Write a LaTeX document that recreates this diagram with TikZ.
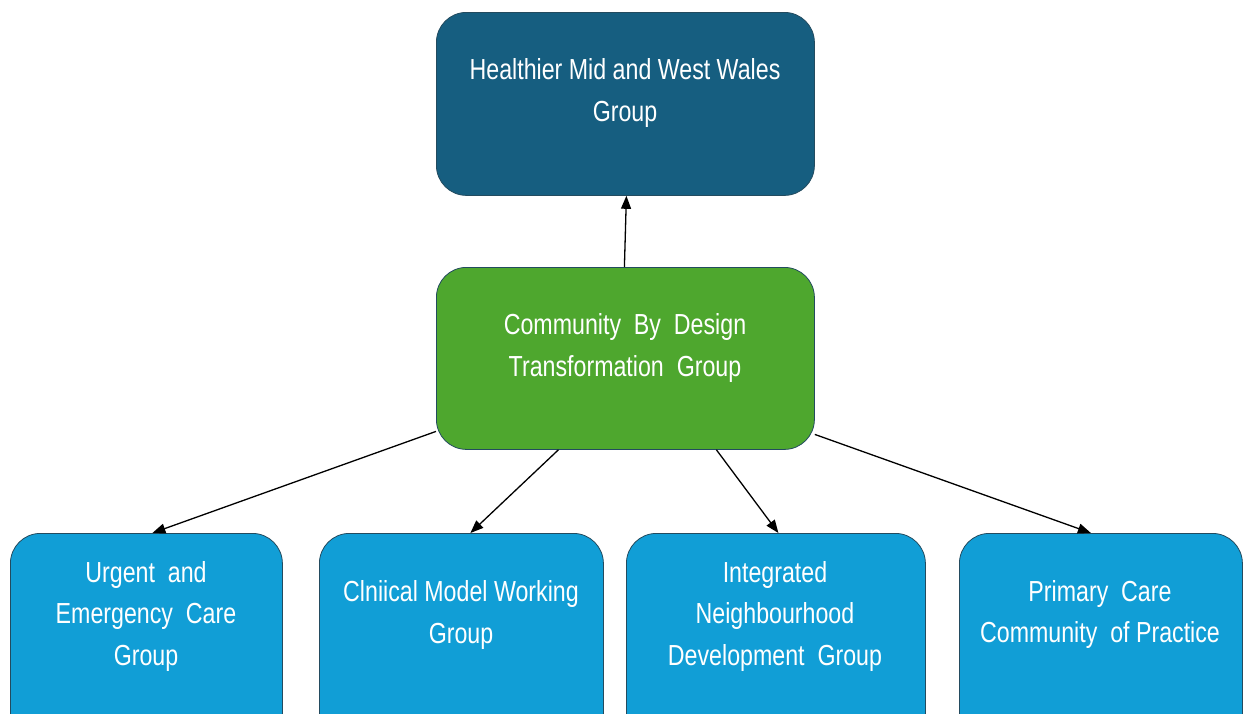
\documentclass[tikz,border=0pt]{standalone}
\usepackage{fontspec}
\setmainfont[FakeStretch=0.8]{Liberation Sans}
\usetikzlibrary{arrows.meta}
\definecolor{topblue}{RGB}{22,94,128}
\definecolor{cbdgreen}{RGB}{78,167,46}
\definecolor{subblue}{RGB}{17,158,214}
\definecolor{edgecol}{RGB}{35,75,95}
\begin{document}
\begin{tikzpicture}[x=1pt,y=-1pt,
  box/.style={draw=edgecol,line width=0.8pt,rounded corners=30pt,anchor=north west,inner sep=0pt},
  lbl/.style={text=white,align=center,font=\fontsize{29}{41.5}\selectfont,inner sep=0pt},
  arr/.style={-{Triangle[length=13pt,width=10pt]},line width=1.3pt,black}]
\useasboundingbox (0,0) rectangle (1244,713);
\clip (0,0) rectangle (1244,713);
\fill[white] (0,0) rectangle (1244,713);
% boxes
\node[box,fill=topblue,minimum width=378pt,minimum height=183pt] (top) at (436,12) {};
\node[box,fill=cbdgreen,minimum width=378pt,minimum height=182pt] (cbd) at (436,267) {};
\node[box,fill=subblue,minimum width=272pt,minimum height=210pt] (u1) at (10,533) {};
\node[box,fill=subblue,minimum width=284pt,minimum height=210pt] (u2) at (319,533) {};
\node[box,fill=subblue,minimum width=299pt,minimum height=210pt] (u3) at (626,533) {};
\node[box,fill=subblue,minimum width=283pt,minimum height=210pt] (u4) at (959,533) {};
% labels
\node[lbl] (topt) at (625,93) {Healthier Mid and West Wales\\Group};
\node[lbl] (cbdt) at (625,348) {Community\ \ By\ \ Design\\Transformation\ \ Group};
\node[lbl] (u1t) at (146,616) {Urgent\ \ and\\Emergency\ \ Care\\Group};
\node[lbl] (u2t) at (461,615) {Clniical Model Working\\Group};
\node[lbl] (u3t) at (775,616) {Integrated\\Neighbourhood\\Development\ \ Group};
\node[lbl] (u4t) at (1100,614.5) {Primary\ \ Care\\Community\ \ of Practice};
% connectors
\draw[arr] ([xshift=-1pt]cbd.north) -- ([xshift=1pt]top.south);
\draw[arr] ([yshift=-73pt]cbd.west) -- ([xshift=6pt]u1.north);
\draw[arr] ([xshift=-67pt]cbd.south) -- ([xshift=9pt]u2.north);
\draw[arr] ([xshift=91pt]cbd.south) -- ([xshift=2.5pt]u3.north);
\draw[arr] ([yshift=-76pt]cbd.east) -- ([xshift=-10pt]u4.north);
\end{tikzpicture}
\end{document}
